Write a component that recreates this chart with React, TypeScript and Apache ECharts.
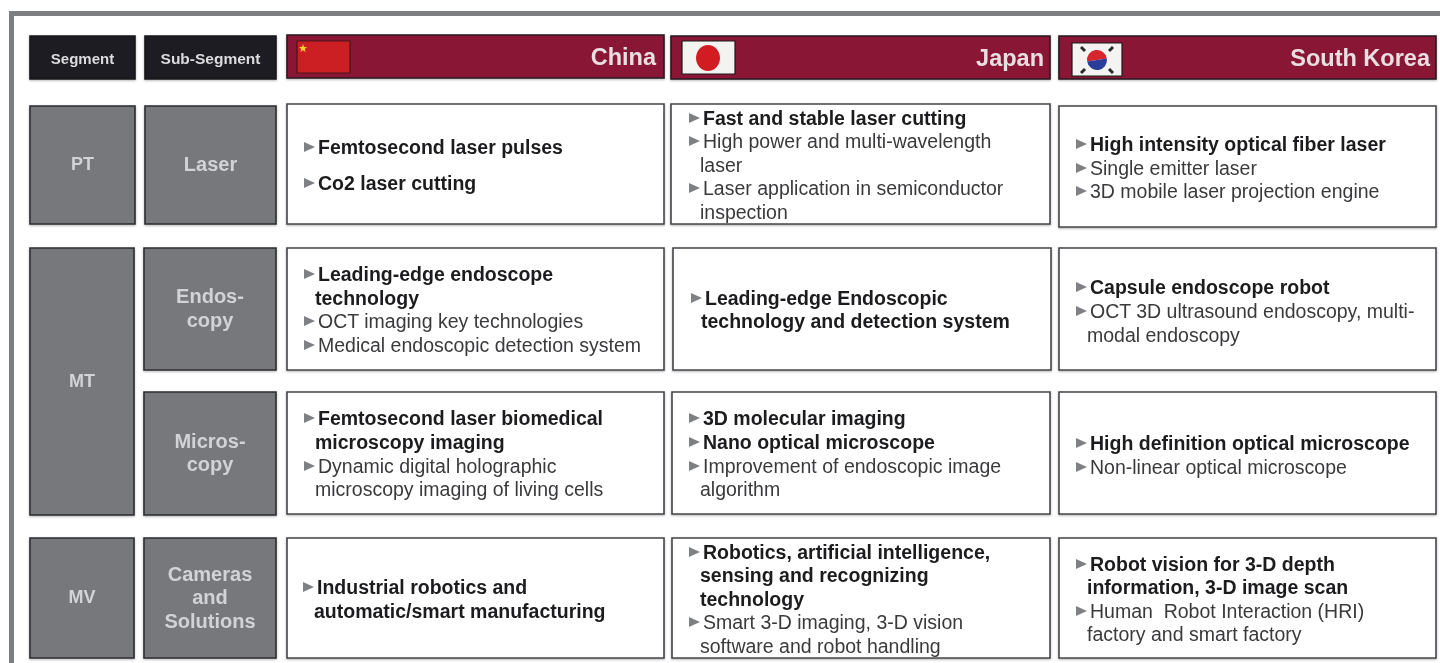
import React, { useEffect, useRef } from "react";
import * as echarts from "echarts";

type Line = [string, number, number, boolean, boolean]; // text, x, middle y, bold, bullet
type Box = [number, number, number, number];

const FONT = '"Liberation Sans", Arial, sans-serif';

const headerDark: [string, Box, number][] = [
  ["Segment", [30, 36, 105, 43], 15],
  ["Sub-Segment", [145, 36, 131, 43], 15.5],
];
const headerRed: [string, Box, number][] = [
  ["China", [287, 35, 377, 43], 656],
  ["Japan", [671, 36, 379, 43], 1044],
  ["South Korea", [1059, 36, 377, 43], 1430],
];
const grayCells: [string[], Box, number][] = [
  [["PT"], [30, 106, 105, 118], 18],
  [["Laser"], [145, 106, 131, 118], 20],
  [["MT"], [30, 248, 104, 267], 18],
  [["Endos-", "copy"], [144, 248, 132, 122], 20],
  [["Micros-", "copy"], [144, 392, 132, 123], 20],
  [["MV"], [30, 538, 104, 120], 18],
  [["Cameras", "and", "Solutions"], [144, 538, 132, 120], 20],
];
const whiteCells: Box[] = [
  [287, 104, 377, 120], [671, 104, 379, 120], [1059, 106, 377, 121],
  [287, 248, 377, 122], [673, 248, 378, 122], [1059, 248, 377, 122],
  [287, 392, 377, 122], [672, 392, 378, 122], [1059, 392, 377, 122],
  [287, 538, 377, 120], [672, 538, 378, 120], [1059, 538, 377, 120],
];
const cellText: Line[] = [
  ["Femtosecond laser pulses", 318, 147, true, true],
  ["Co2 laser cutting", 318, 183, true, true],
  ["Fast and stable laser cutting", 703, 118, true, true],
  ["High power and multi-wavelength", 703, 141, false, true],
  ["laser", 700, 165, false, false],
  ["Laser application in semiconductor", 703, 188, false, true],
  ["inspection", 700, 212, false, false],
  ["High intensity optical fiber laser", 1090, 144, true, true],
  ["Single emitter laser", 1090, 168, false, true],
  ["3D mobile laser projection engine", 1090, 191, false, true],
  ["Leading-edge endoscope", 318, 274, true, true],
  ["technology", 315, 298, true, false],
  ["OCT imaging key technologies", 318, 321, false, true],
  ["Medical endoscopic detection system", 318, 345, false, true],
  ["Leading-edge Endoscopic", 705, 298, true, true],
  ["technology and detection system", 701, 321, true, false],
  ["Capsule endoscope robot", 1090, 287, true, true],
  ["OCT 3D ultrasound endoscopy, multi-", 1090, 311, false, true],
  ["modal endoscopy", 1087, 335, false, false],
  ["Femtosecond laser biomedical", 318, 418, true, true],
  ["microscopy imaging", 315, 442, true, false],
  ["Dynamic digital holographic", 318, 466, false, true],
  ["microscopy imaging of living cells", 315, 489, false, false],
  ["3D molecular imaging", 703, 418, true, true],
  ["Nano optical microscope", 703, 442, true, true],
  ["Improvement of endoscopic image", 703, 466, false, true],
  ["algorithm", 700, 489, false, false],
  ["High definition optical microscope", 1090, 443, true, true],
  ["Non-linear optical microscope", 1090, 467, false, true],
  ["Industrial robotics and", 317, 587, true, true],
  ["automatic/smart manufacturing", 314, 611, true, false],
  ["Robotics, artificial intelligence,", 703, 552, true, true],
  ["sensing and recognizing", 700, 575, true, false],
  ["technology", 700, 599, true, false],
  ["Smart 3-D imaging, 3-D vision", 703, 622, false, true],
  ["software and robot handling", 700, 646, false, false],
  ["Robot vision for 3-D depth", 1090, 564, true, true],
  ["information, 3-D image scan", 1087, 587, true, false],
  ["Human  Robot Interaction (HRI)", 1090, 611, false, true],
  ["factory and smart factory", 1087, 634, false, false],
];

const DARK = "#1d1e21";
const RED = "#8a1534";
const GRAY = "#77787c";
const EDGE = "#2c2d30";

function buildGraphics() {
  const els: any[] = [];
  const rect = (b: Box, fill: string, stroke: string, lw = 1.6, shadow = true) =>
    els.push({
      type: "rect",
      shape: { x: b[0], y: b[1], width: b[2], height: b[3] },
      style: {
        fill, stroke, lineWidth: lw,
        shadowBlur: shadow ? 2 : 0, shadowColor: "rgba(0,0,0,0.3)", shadowOffsetY: shadow ? 1 : 0,
      },
    });
  const text = (t: string, x: number, y: number, size: number, weight: string, color: string, align = "left") =>
    els.push({
      type: "text", x, y,
      style: { text: t, fontFamily: FONT, fontSize: size, fontWeight: weight, fill: color, textAlign: align, textVerticalAlign: "middle" },
    });

  // frame
  els.push({ type: "rect", shape: { x: 9, y: 11, width: 1431, height: 5 }, style: { fill: "#7d7e82" } });
  els.push({ type: "rect", shape: { x: 9, y: 11, width: 5, height: 652 }, style: { fill: "#7d7e82" } });

  headerDark.forEach(([t, b, size]) => {
    rect(b, DARK, "#17181a");
    text(t, b[0] + b[2] / 2, b[1] + b[3] / 2 + 1, size, "bold", "#dcdcde", "center");
  });
  headerRed.forEach(([t, b, right]) => {
    rect(b, RED, "#2a1a20");
    text(t, right, b[1] + b[3] / 2 + 0.5, 23.5, "bold", "#e8dfe2", "right");
  });
  // flags
  rect([297, 41, 53, 32], "#cc1f24", "#4a1518", 1.2, false);
  els.push({ type: "polygon", shape: { points: [[303, 44], [304, 47], [307, 47], [304.8, 49], [305.5, 52], [303, 50.3], [300.5, 52], [301.2, 49], [299, 47], [302, 47]] }, style: { fill: "#f2d22e" } });
  rect([682, 41, 53, 33], "#f3f3f1", "#1a1a1a", 1.2, false);
  els.push({ type: "ellipse", shape: { cx: 708, cy: 58, rx: 12, ry: 13 }, style: { fill: "#d11d22" } });
  rect([1072, 43, 50, 33], "#f3f3f1", "#1a1a1a", 1.2, false);
  els.push({ type: "sector", shape: { cx: 1097, cy: 60, r: 10, r0: 0, startAngle: Math.PI * 0.95, endAngle: Math.PI * 1.95 }, style: { fill: "#d6252c" } });
  els.push({ type: "sector", shape: { cx: 1097, cy: 60, r: 10, r0: 0, startAngle: Math.PI * 1.95, endAngle: Math.PI * 2.95 }, style: { fill: "#2a3d9a" } });
  [[1083, 49, 1], [1111, 49, -1], [1083, 71, -1], [1111, 71, 1]].forEach(([x, y, d]) =>
    els.push({ type: "line", shape: { x1: x - 2, y1: y - 2 * d, x2: x + 2, y2: y + 2 * d }, style: { stroke: "#2a2a2a", lineWidth: 3 } })
  );

  grayCells.forEach(([lines, b, size]) => {
    rect(b, GRAY, EDGE);
    const mid = b[1] + b[3] / 2;
    lines.forEach((l, i) =>
      text(l, b[0] + b[2] / 2, mid + (i - (lines.length - 1) / 2) * 23.5 - 1, size, "bold", "#d2d3d5", "center")
    );
  });
  whiteCells.forEach((b) => rect(b, "#ffffff", "#45464a"));
  cellText.forEach(([t, x, y, bold, bullet]) => {
    if (bullet) {
      els.push({
        type: "polygon",
        shape: { points: [[x - 14, y - 5], [x - 14, y + 5], [x - 3, y]] },
        style: { fill: "#7f8084" },
      });
    }
    text(t, x, y, 19.5, bold ? "bold" : "normal", bold ? "#1c1c1e" : "#3a3a3d");
  });
  return els;
}

export default function App() {
  const ref = useRef<HTMLDivElement>(null);
  useEffect(() => {
    document.body.style.margin = "0";
    const chart = echarts.init(ref.current!, undefined, { renderer: "svg" });
    chart.setOption({ animation: false, backgroundColor: "#ffffff", graphic: { elements: buildGraphics() } });
    return () => chart.dispose();
  }, []);
  return <div ref={ref} style={{ width: 1440, height: 663, filter: "blur(0.6px)" }} />;
}
